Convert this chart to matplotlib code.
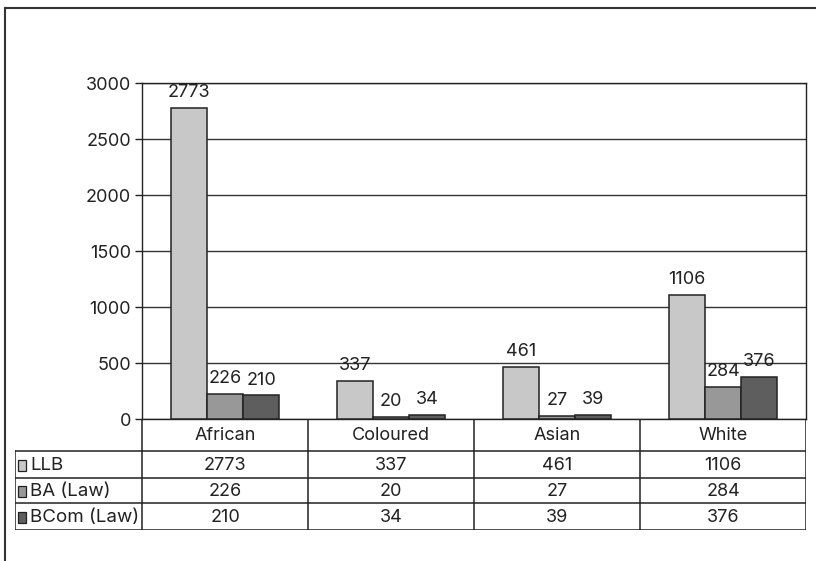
import matplotlib
matplotlib.use("Agg")
import matplotlib.pyplot as plt
from matplotlib.patches import Rectangle
from matplotlib.lines import Line2D

plt.rcParams['font.family'] = ['Inter', 'DejaVu Sans']

categories = ["African", "Coloured", "Asian", "White"]
series_names = ["LLB", "BA (Law)", "BCom (Law)"]
llb = [2773, 337, 461, 1106]
ba_law = [226, 20, 27, 284]
bcom_law = [210, 34, 39, 376]
series_values = [llb, ba_law, bcom_law]
colors = ["#c8c8c8", "#989898", "#5e5e5e"]
y_ticks = [0, 500, 1000, 1500, 2000, 2500, 3000]

W, H = 816, 561
fig = plt.figure(figsize=(W / 100, H / 100), dpi=100)
ink = "#222222"
fs = 13

def fx(px):
    return px / W

def fy(py):
    return 1 - py / H

# plot area in pixel coordinates
left, right, top, bottom = 142, 806, 83, 419
ax = fig.add_axes([fx(left), fy(bottom), fx(right - left), (bottom - top) / H])
n = len(categories)
ax.set_xlim(-0.5, n - 0.5)
ax.set_ylim(0, 3000)
bw = 0.218
offsets = [-bw, 0, bw]
for vals, off, col in zip(series_values, offsets, colors):
    xs = [i + off for i in range(n)]
    ax.bar(xs, vals, width=bw, color=col, edgecolor=ink, linewidth=1.1, zorder=3)
    for x, v in zip(xs, vals):
        ax.annotate(str(v), (x, v), xytext=(0, 5), textcoords="offset points",
                    ha="center", va="bottom", fontsize=fs, color=ink, zorder=4)

ax.set_yticks(y_ticks)
ax.set_yticklabels([str(t) for t in y_ticks], fontsize=fs, color=ink)
ax.set_xticks([])
ax.tick_params(axis="y", length=5, width=1, color=ink, pad=3, direction="out")
ax.yaxis.grid(True, color="#333333", linewidth=1, zorder=0)
for s in ax.spines.values():
    s.set_color(ink)
    s.set_linewidth(1)

# data table beneath the plot
t_left, t_bottom = 15, 530
row_edges = [419, 451, 478, 503, 530]
px_per_unit = (right - left) / n
tax = fig.add_axes([fx(t_left), fy(t_bottom), fx(right - t_left), (t_bottom - bottom) / H])
tax.set_xlim(-0.5 - (left - t_left) / px_per_unit, n - 0.5)
tax.set_ylim(t_bottom, bottom)
tax.axis("off")
x_lab0 = -0.5 - (left - t_left) / px_per_unit
lw = 1.1
# horizontal rules
for r in row_edges[1:]:
    tax.add_line(Line2D([x_lab0, n - 0.5], [r, r], color=ink, lw=lw))
# vertical rules
for i in range(n + 1):
    y_end = t_bottom + (3 if i == 0 else 0)
    tax.add_line(Line2D([i - 0.5, i - 0.5], [bottom, y_end], color=ink, lw=lw))
tax.add_line(Line2D([x_lab0, x_lab0], [row_edges[1], t_bottom], color=ink, lw=lw))

for i, c in enumerate(categories):
    tax.text(i, (row_edges[0] + row_edges[1]) / 2 + 1, c, ha="center", va="center",
             fontsize=fs, color=ink)
for r, (name, vals, col) in enumerate(zip(series_names, series_values, colors)):
    yc = (row_edges[r + 1] + row_edges[r + 2]) / 2
    key_w = 8 / px_per_unit
    tax.add_patch(Rectangle((x_lab0 + 3 / px_per_unit, yc - 5), key_w, 11,
                            facecolor=col, edgecolor=ink, lw=0.9))
    tax.text(x_lab0 + 15 / px_per_unit, yc + 0.5, name, ha="left", va="center",
             fontsize=fs + 0.5, color=ink)
    for i, v in enumerate(vals):
        tax.text(i, yc + 0.5, str(v), ha="center", va="center", fontsize=fs, color=ink)

# outer chart frame (top and left edges)
fig.add_artist(Line2D([fx(5), fx(5)], [fy(8), 0], color="#333333", lw=1.5))
fig.add_artist(Line2D([fx(5), 1], [fy(8), fy(8)], color="#333333", lw=1.5))

fig.savefig("out.png", dpi=100, facecolor="white")
